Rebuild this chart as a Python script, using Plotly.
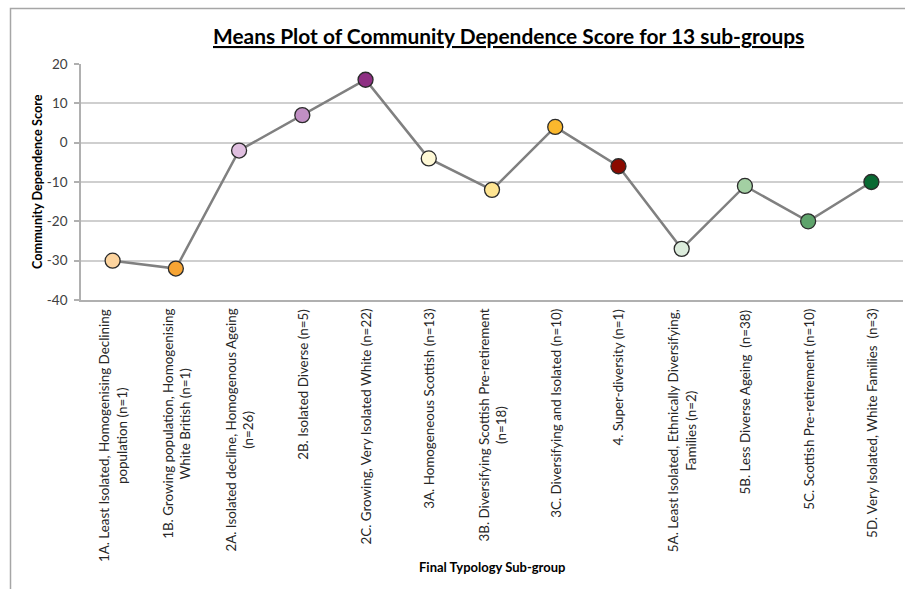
import plotly.graph_objects as go

categories = [
    "1A. Least Isolated, Homogenising Declining<br>population (n=1)",
    "1B. Growing population, Homogenising<br>White British (n=1)",
    "2A. Isolated decline, Homogenous Ageing<br>(n=26)",
    "2B. Isolated Diverse (n=5)",
    "2C. Growing, Very Isolated White (n=22)",
    "3A. Homogeneous Scottish (n=13)",
    "3B. Diversifying Scottish Pre-retirement<br>(n=18)",
    "3C. Diversifying and Isolated (n=10)",
    "4. Super-diversity (n=1)",
    "5A. Least Isolated, Ethnically Diversifying,<br>Families (n=2)",
    "5B. Less Diverse Ageing  (n=38)",
    "5C. Scottish Pre-retirement (n=10)",
    "5D. Very Isolated, White Families  (n=3)",
]
scores = [-30, -32, -2, 7, 16, -4, -12, 4, -6, -27, -11, -20, -10]
marker_colors = [
    "#fdd49e", "#f6a433", "#e0bfe0", "#c18fc4", "#8e2f83",
    "#fff9d6", "#ffe592", "#fbb82d", "#8b0a00",
    "#dcecdc", "#a3cfa3", "#5ea36b", "#096a33",
]
y_ticks = [-40, -30, -20, -10, 0, 10, 20]

W, H = 905, 589
ML, MR, MT, MB = 81, 2, 64, 289
PW = W - ML - MR
PH = H - MT - MB

def px_x(px):
    return (px - ML) / PW

def px_y(py):
    return (H - MB - py) / PH

fig = go.Figure()
fig.add_trace(go.Scatter(
    x=list(range(len(categories))), y=scores, mode="lines+markers",
    line=dict(color="#808080", width=2.5),
    marker=dict(size=15, color=marker_colors, line=dict(color="#2b2b2b", width=1.3)),
    showlegend=False, hoverinfo="skip",
))

font_family = "Lato, 'Open Sans', sans-serif"

annotations = []
for i, lab in enumerate(categories):
    annotations.append(dict(
        x=i, xref="x", y=0, yref="paper", yanchor="top", xanchor="center",
        yshift=-7, text=lab, textangle=-90, showarrow=False, align="center",
        font=dict(family=font_family, size=13.4, color="#262626"),
    ))
annotations.append(dict(
    x=0.5, xref="paper", y=px_y(567), yref="paper", xanchor="center", yanchor="middle",
    text="<b>Final Typology Sub-group</b>", showarrow=False,
    font=dict(family=font_family, size=13, color="#000000"),
))
annotations.append(dict(
    x=px_x(37), xref="paper", y=0.5, yref="paper", xanchor="center", yanchor="middle",
    text="<b>Community Dependence Score</b>", textangle=-90, showarrow=False,
    font=dict(family=font_family, size=12.7, color="#000000"),
))
annotations.append(dict(
    x=px_x(508), xref="paper", y=px_y(35), yref="paper", xanchor="center", yanchor="middle",
    text="<b><u>Means Plot of Community Dependence Score for 13 sub-groups</u></b>",
    showarrow=False,
    font=dict(family=font_family, size=20.9, color="#000000"),
))

shapes = [dict(
    type="path", xref="paper", yref="paper",
    path=f"M {px_x(10.5)},{px_y(620)} L {px_x(10.5)},{px_y(8.5)} L {px_x(920)},{px_y(8.5)}",
    line=dict(color="#a6a6a6", width=1.5),
)]

fig.update_layout(
    width=W, height=H,
    margin=dict(l=ML, r=MR, t=MT, b=MB, pad=0),
    paper_bgcolor="white", plot_bgcolor="white",
    annotations=annotations, shapes=shapes,
    xaxis=dict(
        range=[-0.5, len(categories) - 0.5], showticklabels=False, showgrid=False,
        zeroline=False, showline=True, linecolor="#b0b0b0", linewidth=1.5, ticks="",
        fixedrange=True,
    ),
    yaxis=dict(
        range=[-40, 20], tickvals=y_ticks, ticktext=[str(v) for v in y_ticks],
        showgrid=True, gridcolor="#cfcfcf", gridwidth=1.5, zeroline=False,
        showline=True, linecolor="#b0b0b0", linewidth=1.5,
        ticks="outside", ticklen=5, tickcolor="#b0b0b0", tickwidth=1.5,
        tickfont=dict(family=font_family, size=13.5, color="#404040"),
        ticklabelstandoff=4, fixedrange=True,
    ),
)

fig.write_html(
    "out.html",
    config={"displayModeBar": False},
    post_script="document.body.style.margin='0';document.body.style.overflow='hidden';",
)
